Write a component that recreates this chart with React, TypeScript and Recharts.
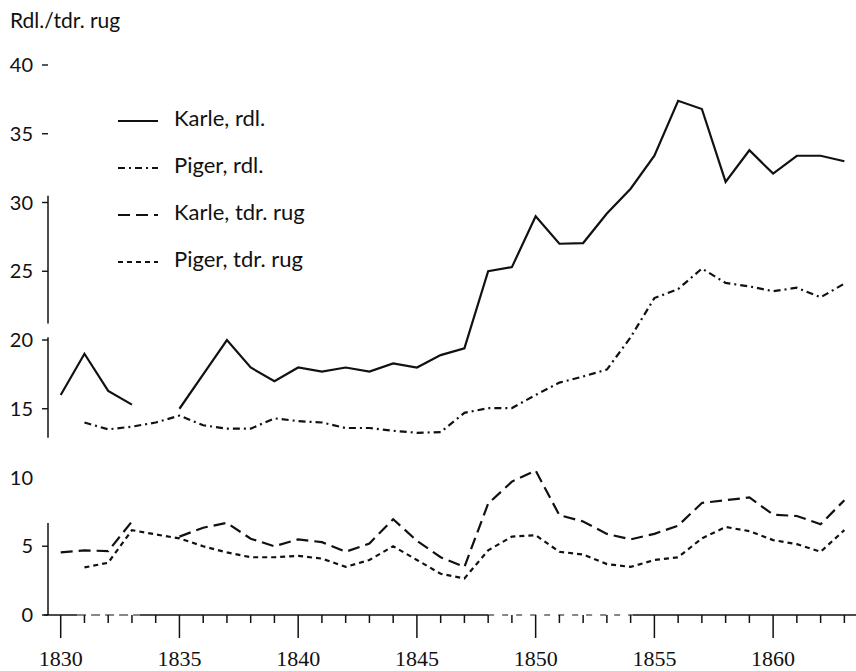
import React from 'react';
import { LineChart, Line, XAxis, YAxis, Legend, ReferenceLine } from 'recharts';

const years = [
  1830, 1831, 1832, 1833, 1834, 1835, 1836, 1837, 1838, 1839,
  1840, 1841, 1842, 1843, 1844, 1845, 1846, 1847, 1848, 1849,
  1850, 1851, 1852, 1853, 1854, 1855, 1856, 1857, 1858, 1859,
  1860, 1861, 1862, 1863,
];

const karleRdl = [
  16, 19, 16.3, 15.3, null, 15, 17.5, 20, 18, 17,
  18, 17.7, 18, 17.7, 18.3, 18, 18.9, 19.4, 25, 25.3,
  29, 27, 27.05, 29.2, 31, 33.4, 37.4, 36.8, 31.5, 33.8,
  32.1, 33.4, 33.4, 33,
];

const pigerRdl = [
  null, 14, 13.5, 13.7, 14, 14.5, 13.8, 13.55, 13.55, 14.3,
  14.1, 14, 13.6, 13.6, 13.4, 13.25, 13.3, 14.7, 15.05, 15.05,
  16, 16.9, 17.35, 17.85, 20.2, 23.05, 23.7, 25.2, 24.15, 23.9,
  23.55, 23.8, 23.1, 24.1,
];

const karleTdr = [
  4.55, 4.7, 4.65, 6.8, null, 5.7, 6.35, 6.7, 5.55, 5.0,
  5.5, 5.3, 4.6, 5.2, 6.97, 5.4, 4.2, 3.5, 8.1, 9.7,
  10.5, 7.26, 6.8, 5.9, 5.5, 5.9, 6.5, 8.15, 8.35, 8.55,
  7.3, 7.2, 6.6, 8.35,
];

const pigerTdr = [
  null, 3.46, 3.8, 6.17, 5.86, 5.57, 5.0, 4.55, 4.2, 4.2,
  4.3, 4.1, 3.5, 4.0, 5.0, 4.0, 3.0, 2.66, 4.7, 5.7,
  5.8, 4.6, 4.4, 3.7, 3.5, 4.0, 4.2, 5.57, 6.4, 6.1,
  5.45, 5.15, 4.6, 6.17,
];

const yTicks = [0, 5, 10, 15, 20, 25, 30, 35, 40];

const data = years.map((year, i) => ({
  year,
  karleRdl: karleRdl[i],
  pigerRdl: pigerRdl[i],
  karleTdr: karleTdr[i],
  pigerTdr: pigerTdr[i],
}));

const series = [
  { key: 'karleRdl', name: 'Karle, rdl.', dash: undefined },
  { key: 'pigerRdl', name: 'Piger, rdl.', dash: '7 4 2 4' },
  { key: 'karleTdr', name: 'Karle, tdr. rug', dash: '12 6' },
  { key: 'pigerTdr', name: 'Piger, tdr. rug', dash: '5 4' },
];

const X_MIN = 1829.465;
const X_MAX = 1863.49;
const AXIS_X = 48;
const AXIS_Y = 615;
const INK = '#111';
const SANS = 'Lato, "Open Sans", sans-serif';
const SERIF = '"Liberation Serif", "DejaVu Serif", serif';

const YTick = (props: any) => {
  const { y, payload } = props;
  return (
    <g>
      {payload.value !== 10 && (
        <line x1={AXIS_X - 6} x2={AXIS_X} y1={y} y2={y} stroke={INK} strokeWidth={1.4} />
      )}
      <text x={33} y={y + 7} textAnchor="end" fontFamily={SANS} fontSize={20} fill={INK}>
        {payload.value}
      </text>
    </g>
  );
};

const XTick = (props: any) => {
  const { x, payload } = props;
  const major = payload.value % 5 === 0;
  return (
    <g>
      <line x1={x} x2={x} y1={AXIS_Y} y2={AXIS_Y + (major ? 23 : 8)} stroke={INK} strokeWidth={1.5} />
      {major && (
        <text x={x} y={AXIS_Y + 51} textAnchor="middle" fontFamily={SERIF} fontSize={22} fill={INK}>
          {payload.value}
        </text>
      )}
    </g>
  );
};

const LegendBox = () => (
  <div style={{ fontFamily: SANS, fontSize: 22, color: INK }}>
    {series.map((s) => (
      <div key={s.key} style={{ display: 'flex', height: 47, lineHeight: '47px' }}>
        <svg width={56} height={47} style={{ flex: 'none' }}>
          <line x1={0} x2={40} y1={27} y2={27} stroke={INK} strokeWidth={2} strokeDasharray={s.dash} />
        </svg>
        <span style={{ whiteSpace: 'nowrap' }}>{s.name}</span>
      </div>
    ))}
  </div>
);

export default function App() {
  return (
    <div style={{ position: 'absolute', left: 0, top: 0, width: 856, height: 671, background: '#fff' }}>
      <div
        style={{
          position: 'absolute', left: 10, top: 9, fontFamily: SANS, fontSize: 21,
          lineHeight: '21px', color: INK, whiteSpace: 'nowrap',
        }}
      >
        Rdl./tdr. rug
      </div>
      <LineChart width={856} height={671} data={data} margin={{ top: 65, right: 0, bottom: 0, left: 0 }}>
        <XAxis
          dataKey="year"
          type="number"
          domain={[X_MIN, X_MAX]}
          ticks={years}
          interval={0}
          height={56}
          axisLine={false}
          tickLine={false}
          tick={<XTick />}
          allowDataOverflow
        />
        <YAxis
          type="number"
          domain={[0, 40]}
          ticks={yTicks}
          interval={0}
          width={48}
          axisLine={false}
          tickLine={false}
          tick={<YTick />}
        />
        {/* broken axis lines as printed */}
        <ReferenceLine segment={[{ x: X_MIN, y: 0 }, { x: X_MIN, y: 6.7 }]} stroke={INK} strokeWidth={1.5} ifOverflow="visible" />
        <ReferenceLine segment={[{ x: X_MIN, y: 12.9 }, { x: X_MIN, y: 20.2 }]} stroke={INK} strokeWidth={1.5} ifOverflow="visible" />
        <ReferenceLine segment={[{ x: X_MIN, y: 21.2 }, { x: X_MIN, y: 30.5 }]} stroke={INK} strokeWidth={1.5} ifOverflow="visible" />
        <ReferenceLine segment={[{ x: 1829.3, y: 0 }, { x: 1830.69, y: 0 }]} stroke={INK} strokeWidth={1.6} ifOverflow="visible" />
        <ReferenceLine segment={[{ x: 1830.69, y: 0 }, { x: 1833.34, y: 0 }]} stroke={INK} strokeWidth={1.1} strokeDasharray="9 5" ifOverflow="visible" />
        <ReferenceLine segment={[{ x: 1833.34, y: 0 }, { x: 1848.0, y: 0 }]} stroke={INK} strokeWidth={1.6} ifOverflow="visible" />
        <ReferenceLine segment={[{ x: 1848.0, y: 0 }, { x: 1854.1, y: 0 }]} stroke={INK} strokeWidth={1.2} strokeDasharray="6 8" ifOverflow="visible" />
        <ReferenceLine segment={[{ x: 1854.1, y: 0 }, { x: X_MAX, y: 0 }]} stroke={INK} strokeWidth={1.6} ifOverflow="visible" />
        {series.map((s) => (
          <Line
            key={s.key}
            dataKey={s.key}
            name={s.name}
            type="linear"
            stroke={INK}
            strokeWidth={2.2}
            strokeDasharray={s.dash}
            dot={false}
            activeDot={false}
            isAnimationActive={false}
            connectNulls={false}
          />
        ))}
        <Legend
          layout="vertical"
          align="center"
          verticalAlign="middle"
          content={<LegendBox />}
          wrapperStyle={{ position: 'absolute', left: 118, top: 94, width: 260, height: 190 }}
        />
      </LineChart>
    </div>
  );
}
